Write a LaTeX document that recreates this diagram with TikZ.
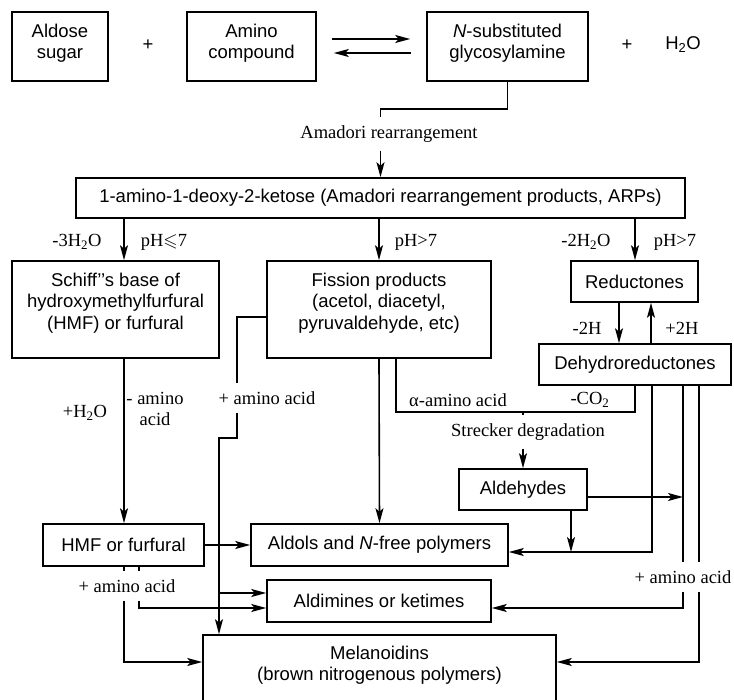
\documentclass[tikz,border=0pt]{standalone}
\usepackage{fontspec}
\setmainfont{Liberation Serif}
\setsansfont{Liberation Sans}
\usepackage{amssymb}
\usetikzlibrary{arrows.meta,positioning,calc}

\tikzset{
  box/.style={draw, line width=1.6pt, inner sep=0pt, align=center,
    font=\sffamily\fontsize{18.5}{21.5}\selectfont},
  txt/.style={inner sep=0pt, align=center,
    font=\sffamily\fontsize{18.5}{21.5}\selectfont},
  lbl/.style={inner sep=2pt, align=center,
    font=\fontsize{18.5}{21.5}\selectfont},
  gaplbl/.style={lbl, inner ysep=8pt},
  conn/.style={line width=1.6pt},
  arr/.style={conn, -{Stealth[length=15pt, width=8pt, inset=3.5pt]}},
}

\begin{document}
\begin{tikzpicture}[x=1pt, y=-1pt]
  \useasboundingbox (0,0) rectangle (734,700);
  \clip (0,0) rectangle (734,700);

  % ---------- top row ----------
  \node[box, minimum width=96pt, minimum height=69pt] (aldose) at (60,46.5) {Aldose\\sugar\\[-11pt]};
  \node[txt] (plusA) at (148,45) {+};
  \node[box, minimum width=129pt, minimum height=69pt] (amino) at (251.5,46.5) {Amino\\compound\\[-11pt]};
  \node[box, minimum width=161pt, minimum height=69pt] (glyco) at (507.5,46.5) {\textit{N}-substituted\\glycosylamine\\[-11pt]};
  \node[txt] (plusB) at (627,45) {+};
  \node[txt] (water) at (683,45) {H\textsubscript{2}O};

  \draw[arr, shorten <=15pt, shorten >=16pt] ([yshift=7.5pt]amino.east) -- ([yshift=7.5pt]glyco.west);
  \draw[arr, shorten <=15pt, shorten >=17pt] ([yshift=-6.5pt]glyco.west) -- ([yshift=-6.5pt]amino.east);

  % ---------- Amadori ----------
  \node[gaplbl] (amlbl) at (389,134) {Amadori rearrangement};
  \node[box, minimum width=609pt, minimum height=40pt] (arp) at (380.5,198)
    {1-amino-1-deoxy-2-ketose (Amadori rearrangement products, ARPs)};

  \draw[conn] (glyco.south) -- ++(0,27) -| (amlbl.north -| arp.north);
  \draw[arr] (amlbl.south -| arp.north) -- (arp.north);

  \node[lbl] (lossA) at (77,242) {-3H\textsubscript{2}O};
  \node[lbl] (phA) at (164,242) {pH$\leqslant$7};
  \node[lbl] (phB) at (416,242) {pH>7};
  \node[lbl] (lossB) at (586,242) {-2H\textsubscript{2}O};
  \node[lbl] (phC) at (675,242) {pH>7};

  % ---------- second row ----------
  \node[box, minimum width=207pt, minimum height=97pt] (schiff) at (115.5,309.5) {};
  \node[txt] (schiffT) at (115.5,303) {Schiff’’s base of\\hydroxymethylfurfural\\(HMF) or furfural};
  \node[box, minimum width=224pt, minimum height=97pt] (fission) at (379,309.5) {};
  \node[txt] (fissionT) at (379,303) {Fission products\\(acetol, diacetyl,\\pyruvaldehyde, etc)};
  \node[box, minimum width=127pt, minimum height=41pt] (reduct) at (634.5,281.5) {Reductones};
  \node[box, minimum width=192pt, minimum height=41pt] (dehydro) at (635,364.5) {Dehydroreductones};
  \node[lbl] (minusH) at (587,328) {-2H};
  \node[lbl] (plusH) at (682,328) {+2H};

  \node[lbl] (addW) at (85,413) {+H\textsubscript{2}O};
  \node[lbl] (lossAA) at (155,409) {- amino\\acid};
  \node[gaplbl] (aaF) at (267,398) {+ amino acid};
  \node[lbl] (alphaAA) at (458,400) {α-amino acid};
  \node[lbl] (lossC) at (590,400) {-CO\textsubscript{2}};
  \node[gaplbl] (sdlbl) at (528,432) {Strecker degradation};
  \node[box, minimum width=128pt, minimum height=41pt] (aldehyd) at (523,489.5) {Aldehydes};

  % ---------- bottom ----------
  \node[box, minimum width=161pt, minimum height=42pt] (hmf) at (123.5,545) {HMF or furfural};
  \node[box, minimum width=257pt, minimum height=42pt] (aldols) at (379.5,545) {Aldols and \textit{N}-free polymers};
  \node[box, minimum width=224pt, minimum height=42pt] (aldim) at (379,601) {Aldimines or ketimes};
  \node[box, minimum width=353pt, minimum height=80pt] (melan) at (379.5,675) {};
  \node[txt] (melanT) at (379.5,665) {Melanoidins\\(brown nitrogenous polymers)};
  \node[gaplbl] (aaH) at (127,586) {+ amino acid};
  \node[gaplbl] (aaR) at (683,577) {+ amino acid};

  % columns and rows of the connectors
  \coordinate (xA) at (124,0);
  \coordinate (xB) at (139,0);
  \coordinate (xC) at (219,0);
  \coordinate (xCa) at (237,0);
  \coordinate (xE) at (396,0);
  \coordinate (xF) at (523,0);
  \coordinate (xG) at (571,0);
  \coordinate (xH) at (619,0);
  \coordinate (xJ) at (635,0);
  \coordinate (xI) at (651,0);
  \coordinate (xK) at (652,0);
  \coordinate (xL) at (683,0);
  \coordinate (xM) at (699,0);
  \coordinate (yF) at (0,317);
  \coordinate (yS) at (0,412);
  \coordinate (yM) at (0,662);
  \coordinate (aldimA) at ([yshift=8pt]aldim.west);
  \coordinate (aldimB) at ([yshift=-7pt]aldim.west);
  \coordinate (aldimE) at ([yshift=-7pt]aldim.east);
  \coordinate (aldolsE) at ([yshift=-7pt]aldols.east);
  \coordinate (aldehydE) at ([yshift=-7.5pt]aldehyd.east);
  \coordinate (melanW) at (melan.west |- yM);
  \coordinate (melanE) at (melan.east |- yM);

  % ARPs branches
  \draw[arr] (arp.south -| xA) -- (schiff.north -| xA);
  \draw[arr] (arp.south -| fission.north) -- (fission.north);
  \draw[arr] (arp.south -| xJ) -- (reduct.north -| xJ);
  \draw[arr] (reduct.south -| xH) -- (dehydro.north -| xH);
  \draw[arr] (dehydro.north -| xI) -- (reduct.south -| xI);

  % left column
  \draw[arr] (schiff.south -| xA) -- (hmf.north -| xA);
  \draw[arr] (hmf.east) -- (aldols.west);
  \draw[conn] (hmf.south -| xA) -- (aaH.north -| xA);
  \draw[conn] (hmf.south -| xB) -- (aaH.north -| xB);
  \draw[arr] (aaH.south -| xA) |- (melanW);
  \draw[arr] (aaH.south -| xB) |- (aldimB);

  % fission products
  \draw[conn] (fission.west |- yF) -| (aaF.north -| xCa);
  \draw[arr] (aaF.south -| xCa) -- ++(0,25) -| (melan.north -| xC);
  \draw[arr] (aldimA -| xC) -- (aldimA);
  \draw[arr] (fission.south) -- (aldols.north);

  % Strecker degradation
  \draw[conn] (fission.south -| xE) |- (yS -| xJ) -- (dehydro.south -| xJ);
  \draw[conn] (yS -| xF) -- (sdlbl.north -| xF);
  \draw[arr] (sdlbl.south -| xF) -- (aldehyd.north);
  \draw[arr] (aldehydE) -- (aldehydE -| xL);
  \draw[arr] (aldehyd.south -| xG) -- (aldolsE -| xG);

  % dehydroreductones
  \draw[arr] (dehydro.south -| xK) |- (aldolsE);
  \draw[conn] (dehydro.south -| xL) -- (aaR.north -| xL);
  \draw[conn] (dehydro.south -| xM) -- (aaR.north -| xM);
  \draw[arr] (aaR.south -| xL) |- (aldimE);
  \draw[arr] (aaR.south -| xM) |- (melanE);
\end{tikzpicture}
\end{document}
